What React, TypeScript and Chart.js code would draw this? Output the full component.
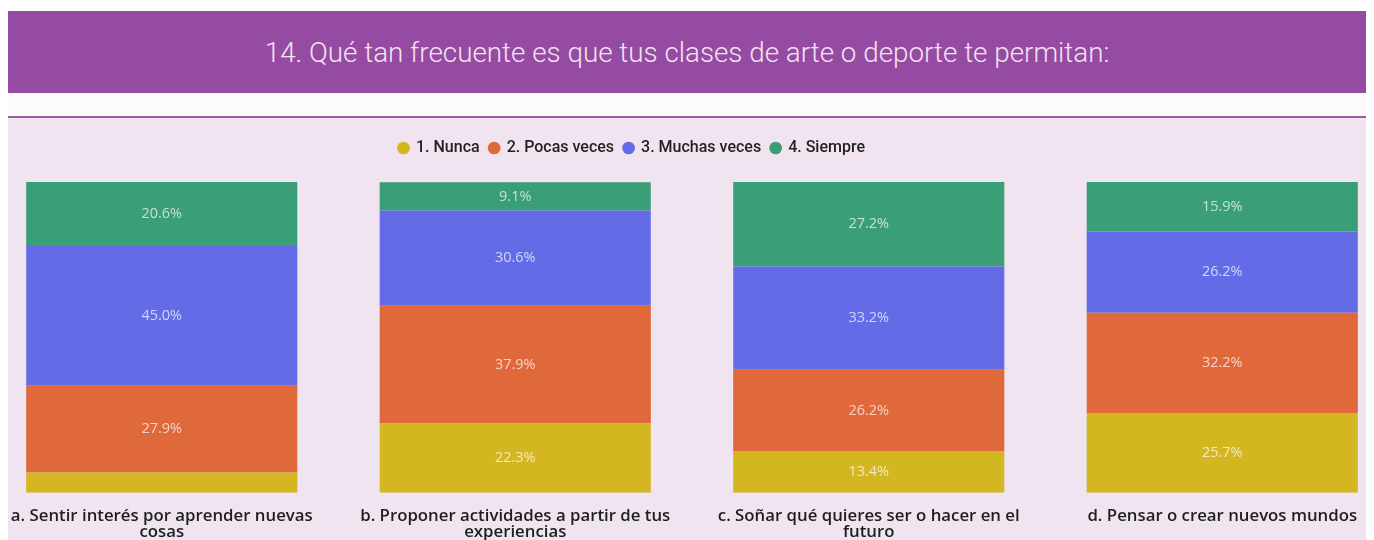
import React, { useEffect, useRef } from "react";
import { Chart, registerables } from "chart.js";

Chart.register(...registerables);

const TITLE = "14. Qué tan frecuente es que tus clases de arte o deporte te permitan:";

const CATEGORIES: string[][] = [
  ["a. Sentir interés por aprender nuevas", "cosas"],
  ["b. Proponer actividades a partir de tus", "experiencias"],
  ["c. Soñar qué quieres ser o hacer en el", "futuro"],
  ["d. Pensar o crear nuevos mundos"],
];

const SERIES_NAMES = ["1. Nunca", "2. Pocas veces", "3. Muchas veces", "4. Siempre"];
const SERIES_COLORS = ["#d4b621", "#e0693b", "#636ce6", "#3a9e77"];

const NUNCA = [6.5, 22.3, 13.4, 25.7];
const POCAS_VECES = [27.9, 37.9, 26.2, 32.2];
const MUCHAS_VECES = [45.0, 30.6, 33.2, 26.2];
const SIEMPRE = [20.6, 9.1, 27.2, 15.9];

const LABEL_MIN = 8;

const LEGEND_FONT = "Roboto, sans-serif";
const AXIS_FONT = "'Open Sans', sans-serif";

export default function App() {
  const canvasRef = useRef<HTMLCanvasElement | null>(null);

  useEffect(() => {
    document.documentElement.style.overflow = "hidden";
    document.body.style.overflow = "hidden";
    const canvas = canvasRef.current;
    if (!canvas) return;

    const valueLabels = {
      id: "valueLabels",
      afterDatasetsDraw(chart: any) {
        const ctx = chart.ctx;
        ctx.save();
        ctx.font = "14.5px 'Open Sans', sans-serif";
        ctx.fillStyle = "rgba(255,255,255,0.7)";
        ctx.textAlign = "center";
        ctx.textBaseline = "middle";
        chart.data.datasets.forEach((ds: any, di: number) => {
          const meta = chart.getDatasetMeta(di);
          meta.data.forEach((el: any, i: number) => {
            const v = ds.data[i] as number;
            if (v < LABEL_MIN) return;
            const cy = (el.y + el.base) / 2;
            ctx.fillText(v.toFixed(1) + "%", el.x, cy);
          });
        });
        ctx.restore();
      },
    };

    const legendTweak = {
      id: "legendTweak",
      beforeInit(chart: any) {
        const lg = chart.legend;
        if (!lg) return;
        const fit = lg.fit;
        lg.fit = function () {
          fit.call(this);
          this.height += 16;
        };
      },
      afterLayout(chart: any) {
        const lg = chart.legend;
        if (!lg) return;
        lg.left -= 60;
        lg.right -= 60;
      },
    };

    const datasetsValues = [NUNCA, POCAS_VECES, MUCHAS_VECES, SIEMPRE];

    const chart = new Chart(canvas, {
      type: "bar",
      data: {
        labels: CATEGORIES,
        datasets: SERIES_NAMES.map((name, i) => ({
          label: name,
          data: datasetsValues[i],
          backgroundColor: SERIES_COLORS[i],
          borderWidth: 0,
          barPercentage: 0.767,
          categoryPercentage: 1,
        })),
      },
      options: {
        animation: false,
        responsive: true,
        maintainAspectRatio: false,
        layout: { padding: { top: 12, bottom: 1, left: 0, right: 0 } },
        plugins: {
          legend: {
            position: "top",
            labels: {
              usePointStyle: true,
              pointStyle: "circle",
              boxWidth: 9,
              boxHeight: 9,
              padding: 10,
              color: "#222222",
              font: { family: LEGEND_FONT, size: 16, weight: 500 },
            },
          },
          tooltip: { enabled: false },
        },
        scales: {
          x: {
            stacked: true,
            grid: { display: false },
            border: { display: false },
            ticks: {
              color: "#1e1e1e",
              padding: 7,
              maxRotation: 0,
              autoSkip: false,
              font: { family: AXIS_FONT, size: 16.8, weight: 600, lineHeight: 0.96 },
            },
          },
          y: {
            stacked: true,
            display: false,
            min: 0,
            max: 100,
          },
        },
      },
      plugins: [valueLabels, legendTweak],
    });

    return () => chart.destroy();
  }, []);

  return (
    <div style={{ width: 1358, height: 532, position: "relative", overflow: "hidden" }}>
      <div style={{ height: 3, background: "#ffffff" }} />
      <div
        style={{
          height: 82,
          background: "#944ba1",
          display: "flex",
          alignItems: "center",
          justifyContent: "center",
          color: "#f5e2f3",
          fontFamily: "Roboto, sans-serif",
          fontWeight: 300,
          fontSize: 27.8,
        }}
      >
        {TITLE}
      </div>
      <div style={{ height: 23, background: "#fbfbfb" }} />
      <div style={{ height: 2, background: "#9a5ba6" }} />
      <div style={{ position: "relative", height: 422, background: "#f0e4f1", overflow: "hidden" }}>
        <div style={{ position: "absolute", left: -22.75, top: 0, width: 1414, height: 430 }}>
          <canvas ref={canvasRef} />
        </div>
      </div>
    </div>
  );
}
